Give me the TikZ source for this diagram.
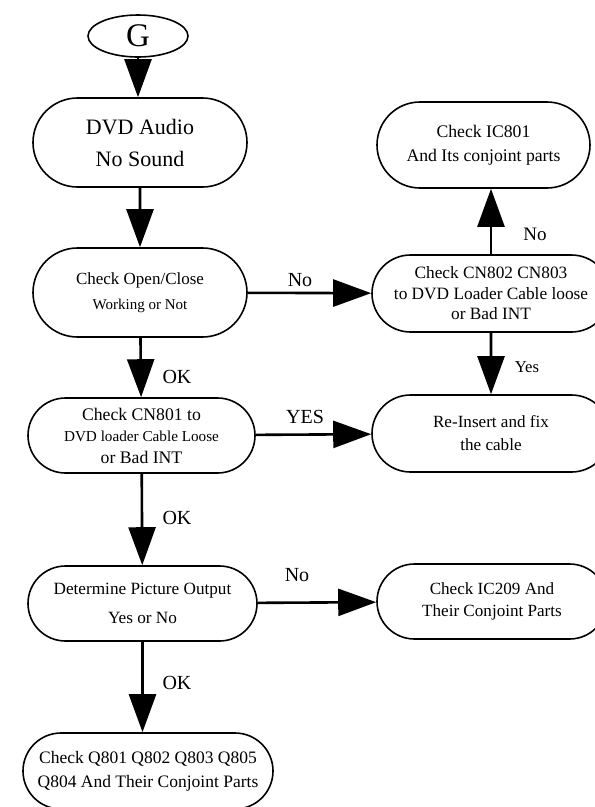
\documentclass[tikz,border=0pt]{standalone}
\usepackage{fontspec}
\setmainfont{Liberation Serif}
\usetikzlibrary{arrows.meta,shapes.geometric,shapes.misc}
\begin{document}
\begin{tikzpicture}[x=1pt,y=-1pt,
	pill/.style={draw,rounded rectangle,line width=1.6pt,inner sep=0pt,align=center,font=\fontsize{17}{21}\selectfont},
	flow/.style={line width=2.6pt,-{Triangle[length=38pt,width=27pt]}},
	lbl/.style={inner sep=0pt,font=\fontsize{20}{24}\selectfont}]
		\useasboundingbox (0,0) rectangle (595,807);
		\node[ellipse,draw,line width=1.6pt,minimum width=100pt,minimum height=42pt,inner sep=0pt,font=\fontsize{33}{33}\selectfont] (g) at (138,36) {G};
		\node[pill,minimum width=214pt,minimum height=89pt,font=\fontsize{22}{32}\selectfont] (audio) at (140,142.5) {DVD Audio\\No Sound};
		\node[pill,minimum width=214pt,minimum height=89pt,font=\fontsize{17}{25}\selectfont] (openclose) at (140,292.5) {Check Open/Close\\{\fontsize{15}{25}\selectfont Working or Not}};
		\node[pill,minimum width=213pt,minimum height=86pt,font=\fontsize{17.7}{24}\selectfont] (ic801) at (483.5,145) {Check IC801\\And Its conjoint parts};
		\node[pill,minimum width=238pt,minimum height=77pt,font=\fontsize{17.3}{20.5}\selectfont] (cn802) at (491,293.5) {Check CN802 CN803\\to DVD Loader Cable loose\\or Bad INT};
		\node[pill,minimum width=227pt,minimum height=75pt,font=\fontsize{17.7}{21.5}\selectfont] (cn801) at (141.5,435.5) {Check CN801 to\\{\fontsize{15.2}{21.5}\selectfont DVD loader Cable Loose}\\or Bad INT};
		\node[pill,minimum width=238pt,minimum height=77pt,font=\fontsize{17.1}{23}\selectfont] (reinsert) at (491,433.5) {Re-Insert and fix\\the cable};
		\node[pill,minimum width=229pt,minimum height=75pt,font=\fontsize{17.2}{29}\selectfont] (picture) at (142.5,603.5) {Determine Picture Output\\Yes or No};
		\node[pill,minimum width=230pt,minimum height=75pt,font=\fontsize{17.1}{22}\selectfont] (ic209) at (492,601.5) {Check IC209 And\\Their Conjoint Parts};
		\node[pill,minimum width=250pt,minimum height=76pt,font=\fontsize{17.5}{24}\selectfont] (qparts) at (148,771) {Check Q801 Q802 Q803 Q805\\Q804 And Their Conjoint Parts};
		\draw[flow] (g) -- (g |- audio.north);
		\draw[flow] (audio) -- (openclose);
		\draw[flow] (openclose) -- (cn802);
		\draw[flow] (cn802.north) -- (cn802.north |- ic801.south);
		\draw[flow] (cn802) -- (reinsert);
		\draw[flow] (openclose) -- (cn801);
		\draw[flow] (cn801) -- (reinsert);
		\draw[flow] (cn801) -- (picture);
		\draw[flow] (picture) -- (ic209);
		\draw[flow] (picture.south) -- (picture.south |- qparts.north);
		\node[lbl] (no1) at (300,280) {No};
		\node[lbl] (ok1) at (177,377) {OK};
		\node[lbl] (yes1) at (305,417) {YES};
		\node[lbl] (ok2) at (177,518) {OK};
		\node[lbl] (no2) at (297,575) {No};
		\node[lbl] (ok3) at (177,683) {OK};
		\node[lbl,font=\fontsize{16.7}{20}\selectfont] (yes2) at (527,367) {Yes};
		\node[lbl,font=\fontsize{19}{20}\selectfont] (no3) at (535,234) {No};
	\end{tikzpicture}
\end{document}
